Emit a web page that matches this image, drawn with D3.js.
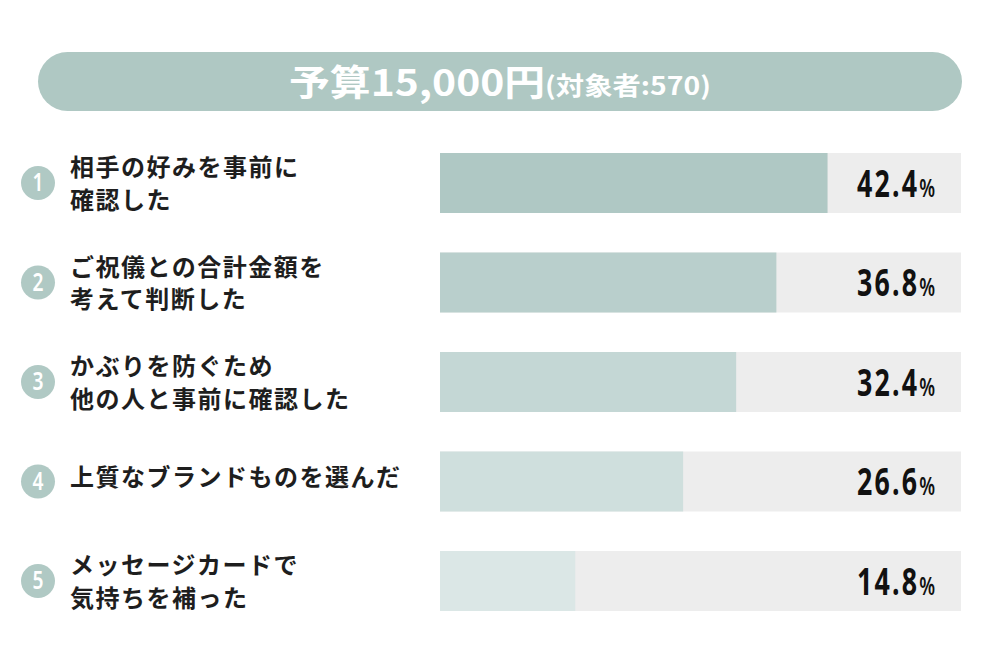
<!DOCTYPE html>
<html>
<head>
<meta charset="utf-8">
<script src="https://cdn.jsdelivr.net/npm/d3@7"></script>
<style>
  body { margin: 0; background: #fff; }
  svg { display: block; }
</style>
</head>
<body>
<svg id="drawing_region"></svg>
<script>
const titleMain = "予算15,000円";
const titleSub = "(対象者:570)";
const labels = [
    ["相手の好みを事前に", "確認した"],
    ["ご祝儀との合計金額を", "考えて判断した"],
    ["かぶりを防ぐため", "他の人と事前に確認した"],
    ["上質なブランドものを選んだ"],
    ["メッセージカードで", "気持ちを補った"]
];
const values = [42.4, 36.8, 32.4, 26.6, 14.8];
const barColors = ["#afc8c4", "#b9cfcc", "#c4d7d5", "#cfdfdd", "#dbe7e6"];

class RankChart {
    constructor( config, labels, values ) {
        this.config = config;
        this.labels = labels;
        this.values = values;
        this.init();
    }
    init() {
        let self = this;
        self.svg = d3.select( self.config.parent )
            .attr('width', self.config.width)
            .attr('height', self.config.height);

        // 42.4% reaches x=828 when bars start at 440 and end at 961
        self.xscale = d3.scaleLinear()
            .domain([0, 57])
            .range([0, self.config.barRight - self.config.barLeft]);

        self.yscale = d3.scaleBand()
            .domain(d3.range(self.values.length))
            .range([self.config.top, self.config.bottom])
            .paddingInner(0.397)
            .paddingOuter(0);
    }
    // squeeze a text horizontally so it fits a given width, keeping its anchor x
    squeeze(sel, ax, width) {
        sel.each(function() {
            const w = this.getComputedTextLength();
            const sx = width / w;
            d3.select(this).attr('transform', `translate(${ax - ax * sx},0) scale(${sx},1)`);
        });
    }
    render() {
        let self = this;
        const c = self.config;

        // header pill
        self.svg.append('rect')
            .attr('x', 38).attr('y', 52)
            .attr('width', 924).attr('height', 59)
            .attr('rx', 29.5)
            .attr('fill', '#afc8c3');

        const title = self.svg.append('text')
            .attr('x', 500).attr('y', 96)
            .attr('text-anchor', 'middle')
            .attr('fill', '#fff')
            .attr('font-family', "'Noto Sans CJK JP', sans-serif")
            .attr('font-weight', 700);
        title.append('tspan').attr('font-size', 36).text(titleMain);
        title.append('tspan').attr('font-size', 25).attr('dy', -1).text(titleSub);
        self.squeeze(title, 500, 422);

        const rows = self.svg.selectAll('.row')
            .data(self.values)
            .join('g')
            .attr('class', 'row')
            .attr('transform', (d, i) => `translate(0, ${self.yscale(i)})`);

        const bh = self.yscale.bandwidth();

        rows.append('rect')
            .attr('x', c.barLeft)
            .attr('width', c.barRight - c.barLeft)
            .attr('height', bh)
            .attr('fill', '#ededed');

        rows.append('rect')
            .attr('x', c.barLeft)
            .attr('width', d => self.xscale(d))
            .attr('height', bh)
            .attr('fill', (d, i) => barColors[i]);

        const pct = rows.append('text')
            .attr('x', 935)
            .attr('y', bh / 2 + 14)
            .attr('text-anchor', 'end')
            .attr('font-family', "'Noto Sans', sans-serif")
            .attr('font-weight', 700)
            .attr('fill', '#111')
            .each(function(d) {
                const t = d3.select(this);
                t.append('tspan').attr('font-size', 37).attr('letter-spacing', 3).text(d.toFixed(1));
                t.append('tspan').attr('font-size', 25).attr('font-weight', 600).text('%');
            });
        self.squeeze(pct, 935, 78);

        rows.append('circle')
            .attr('cx', 38)
            .attr('cy', bh / 2)
            .attr('r', 17)
            .attr('fill', '#b0c9c4');

        const num = rows.append('text')
            .attr('x', 38)
            .attr('y', bh / 2 + 8.5)
            .attr('text-anchor', 'middle')
            .attr('font-family', "'Noto Sans', sans-serif")
            .attr('font-weight', 600)
            .attr('font-size', 25)
            .attr('fill', '#fff')
            .text((d, i) => i + 1);
        self.squeeze(num, 38, 11);

        rows.append('text')
            .attr('font-family', "'Noto Sans CJK JP', sans-serif")
            .attr('font-size', 24)
            .attr('font-weight', 700)
            .attr('letter-spacing', 1.5)
            .attr('fill', '#1e1e1e')
            .each(function(d, i) {
                const lines = self.labels[i];
                const t = d3.select(this);
                const y0 = lines.length === 1 ? bh / 2 + 5 : bh / 2 - 7;
                lines.forEach((s, j) => {
                    t.append('tspan')
                        .attr('x', 70)
                        .attr('y', y0 + j * 33)
                        .text(s);
                });
            });
    }
}

const chart = new RankChart({
    parent: '#drawing_region',
    width: 1000,
    height: 660,
    barLeft: 440,
    barRight: 961,
    top: 153,
    bottom: 611
}, labels, values);
chart.render();
</script>
</body>
</html>
